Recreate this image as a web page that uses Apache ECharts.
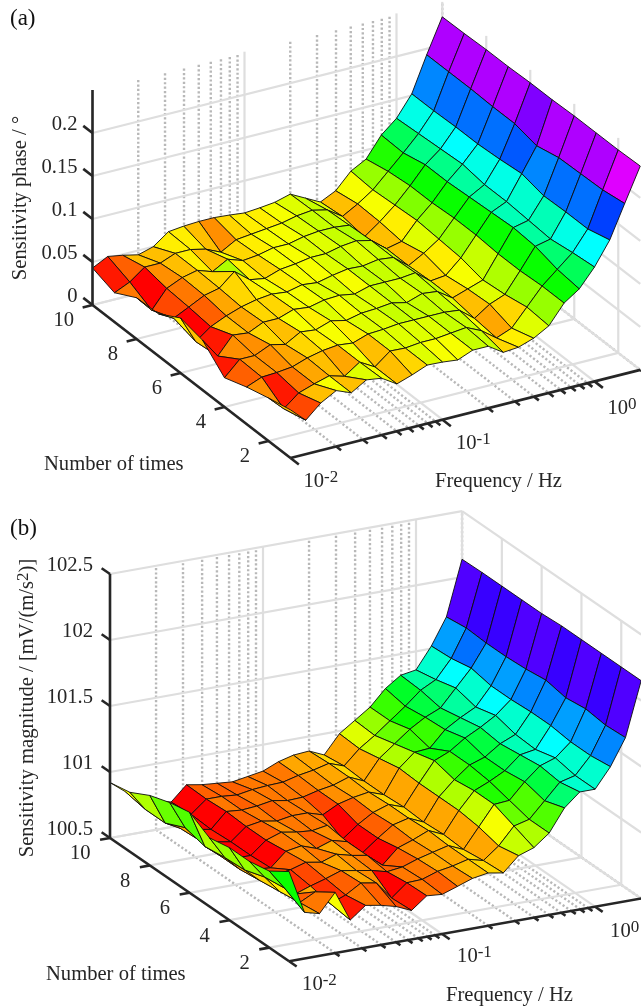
<!DOCTYPE html>
<html><head><meta charset="utf-8">
<style>html,body{margin:0;padding:0;background:#fff}#c{width:641px;height:1007px}</style>
<script src="https://cdn.jsdelivr.net/npm/echarts@6/dist/echarts.min.js"></script></head>
<body><div id="c"></div>
<script>
const frequency=[0.01,0.0126,0.0158,0.02,0.0251,0.0316,0.0398,0.0501,0.0631,0.0794,0.1,0.126,0.158,0.2,0.251,0.316,0.398,0.501,0.631,0.794,1,1.26,1.58,2];
const times=[10,9,8,7,6,5,4,3,2,1];
const phaseT10=[.043,.052,.049,.045,.05,.063,.065,.066,.066,.0645,.0625,.064,.066,.071,.062,.053,.0616,.08,.0895,.113,.128,.152,.193,.2326];
const phaseT9=[.034,.042,.055,.055,.062,.062,.058,.05,.06,.062,.064,.066,.07,.072,.068,.056,.066,.078,.095,.112,.13,.152,.193,.233];
const phaseT8=[.048,.029,.05,.058,.062,.056,.066,.06,.062,.066,.066,.07,.072,.072,.07,.052,.065,.08,.098,.118,.132,.153,.193,.234];
const phaseT7=[.049,.0395,.048,.057,.061,.076,.062,.059,.065,.067,.07,.07,.074,.076,.072,.058,.062,.082,.098,.118,.134,.153,.192,.234];
const phaseT6=[.064,.032,.045,.053,.059,.063,.065,.063,.067,.065,.069,.072,.071,.074,.072,.058,.068,.08,.1,.12,.13,.155,.192,.235];
const phaseT5=[.058,.035,.055,.053,.061,.061,.067,.065,.069,.07,.067,.072,.072,.072,.074,.06,.062,.078,.1,.122,.13,.158,.186,.235];
const phaseT4=[.034,.051,.051,.059,.055,.065,.063,.069,.065,.069,.07,.072,.068,.074,.072,.06,.066,.072,.098,.124,.128,.152,.192,.236];
const phaseT3=[.043,.05,.051,.053,.059,.063,.065,.063,.069,.07,.072,.072,.072,.072,.07,.056,.068,.075,.098,.122,.126,.153,.193,.236];
const phaseT2=[.05,.033,.047,.053,.058,.053,.065,.055,.069,.068,.07,.07,.072,.074,.066,.053,.06,.08,.1,.115,.13,.153,.194,.236];
const phaseT1=[.056,.0395,.055,.065,.058,.0686,.066,.055,.061,.068,.067,.065,.072,.072,.0605,.062,.068,.078,.1,.112,.133,.16,.198,.237];
const magT10=[100.92,100.83,100.78,100.72,100.69,100.8,100.78,100.77,100.76,100.78,100.8,100.85,100.88,100.89,100.84,100.98,101.06,101.14,101.26,101.34,101.36,101.52,101.72,102.136];
const magT9=[100.95,100.8,100.76,100.72,100.70,100.795,100.795,100.785,100.805,100.815,100.82,100.85,100.87,100.9,100.86,100.97,101.05,101.14,101.23,101.33,101.39,101.53,101.74,102.14];
const magT8=[101.03,100.8,100.74,100.71,100.69,100.805,100.795,100.805,100.825,100.805,100.81,100.84,100.86,100.9,100.85,101.0,101.09,101.18,101.25,101.3,101.43,101.56,101.73,102.14];
const magT7=[101.08,100.87,100.75,100.72,100.70,100.795,100.815,100.795,100.815,100.815,100.78,100.84,100.87,100.89,100.85,101.03,101.13,101.14,101.26,101.33,101.39,101.53,101.73,102.14];
const magT6=[101.11,100.83,100.74,100.7,100.7,100.795,100.835,100.815,100.805,100.825,100.7,100.79,100.86,100.9,100.86,101.02,101.17,101.22,101.3,101.36,101.43,101.53,101.74,102.14];
const magT5=[101.02,100.85,100.74,100.72,100.71,100.815,100.835,100.795,100.835,100.805,100.7,100.79,100.87,100.9,100.85,101.02,101.13,101.22,101.26,101.34,101.39,101.54,101.76,102.15];
const magT4=[101.05,100.86,100.76,100.78,100.8,100.835,100.815,100.855,100.825,100.805,100.71,100.82,100.86,100.91,100.86,101.02,101.15,101.2,101.26,101.36,101.38,101.54,101.73,102.15];
const magT3=[101.05,100.91,100.78,100.74,100.78,100.815,100.855,100.835,100.815,100.785,100.8,100.84,100.87,100.9,100.85,101.0,101.15,101.16,101.28,101.38,101.42,101.52,101.75,102.15];
const magT2=[101.08,100.93,100.8,100.86,100.75,100.795,100.865,100.845,100.71,100.805,100.81,100.85,100.87,100.9,100.87,100.96,101.09,101.12,101.24,101.36,101.39,101.52,101.73,102.15];
const magT1=[101.18,100.85,100.82,100.96,100.73,100.82,100.8,100.77,100.72,100.81,100.8,100.84,100.88,100.9,100.88,100.99,101.03,101.12,101.29,101.39,101.39,101.54,101.74,102.15];
const phaseTicks=[0,0.05,0.1,0.15,0.2];
const phaseTickLabels=['0','0.05','0.1','0.15','0.2'];
const magTicks=[100.5,101,101.5,102,102.5];
const magTickLabels=['100.5','101','101.5','102','102.5'];
const timeTicks=[2,4,6,8,10];
const freqMajor=[0.01,0.1,1];
const freqMajorLabels=['-2','-1','0'];
const freqMinor=[0.02,0.03,0.04,0.05,0.06,0.07,0.08,0.09,0.2,0.3,0.4,0.5,0.6,0.7,0.8,0.9,2];

const phase={rows:[phaseT10,phaseT9,phaseT8,phaseT7,phaseT6,phaseT5,phaseT4,phaseT3,phaseT2,phaseT1],ticks:phaseTicks,labels:phaseTickLabels,
  zBase:0,zTop:0.25,ox:92.5,oy:305,cx:15.2,cy:-3.83,tx:22,ty:17,zs:860,
  tickDz:[-15,-8],tickDt:[-18.5,16],majorD:[[13,27],[13.5,27],[13,30]],
  title:'Sensitivity phase / °',tpos:[21,198],tn:[44,465],fn:[435,482],tag:'(a)',tagPos:[10,19]};
const magnitude={rows:[magT10,magT9,magT8,magT7,magT6,magT5,magT4,magT3,magT2,magT1],ticks:magTicks,labels:magTickLabels,
  zBase:100.5,zTop:102.5,ox:110,oy:838,cx:15.3,cy:-2.73,tx:19.9,ty:13.7,zs:132,
  tickDz:[-17,-8],tickDt:[-19.5,16],majorD:[[13,26],[15,26],[15,28]],
  title:'{b|Sensitivity magnitude / [mV/(m/s}{s|2}{b|)]}',richTitle:true,tpos:[28,708],tn:[46,975],fn:[446,996],tag:'(b)',tagPos:[10,529]};
const panels=[phase,magnitude];

function proj(p,lf,t,z){
  const c=(lf+2)*10;
  return [p.ox+p.cx*c+p.tx*(10-t), p.oy+p.cy*c+p.ty*(10-t)-p.zs*(z-p.zBase)];
}
function hsv(h){
  const i=Math.floor(h/60)%6,f=h/60-Math.floor(h/60);
  const q=1-f,t=f;
  const v=[[1,t,0],[q,1,0],[0,1,t],[0,q,1],[t,0,1],[1,0,q]][i];
  return 'rgb('+v.map(x=>Math.round(x*255)).join(',')+')';
}
const LF=frequency.map(f=>Math.log10(f));
const series=[];
const FONT='"Liberation Serif","Times New Roman",serif';
const INK='#262626';
const FS=20.6;

panels.forEach(function(p){
  const all=p.rows.flat(),zmin=Math.min.apply(null,all),zmax=Math.max.apply(null,all);
  const lo=-2,hi=Math.log10(2);
  const seg=[];
  const all_f=freqMajor.map(f=>[Math.log10(f),0]).concat(freqMinor.map(f=>[Math.log10(f),1]));
  all_f.forEach(function(a){
    seg.push([a[0],10,p.zBase,a[0],10,p.zTop,a[1]]);
    seg.push([a[0],10,p.zBase,a[0],1,p.zBase,a[1]]);
  });
  timeTicks.forEach(function(t){
    seg.push([lo,t,p.zBase,hi,t,p.zBase,0]);
    seg.push([hi,t,p.zBase,hi,t,p.zTop,0]);
  });
  p.ticks.forEach(function(z){
    seg.push([lo,10,z,hi,10,z,0]);
    seg.push([hi,10,z,hi,1,z,0]);
  });
  const axis=[];
  axis.push([lo,10,p.zBase,lo,10,p.zTop,2]);
  axis.push([lo,10,p.zBase,lo,1,p.zBase,2]);
  axis.push([lo,1,p.zBase,hi,1,p.zBase,2]);
  p.ticks.forEach(z=>axis.push([lo,10,z,lo,10.42,z,2]));
  timeTicks.forEach(t=>axis.push([lo,t,p.zBase,lo-0.065,t,p.zBase,2]));
  freqMajor.forEach(f=>axis.push([Math.log10(f),1,p.zBase,Math.log10(f),0.62,p.zBase,2]));
  freqMinor.forEach(f=>axis.push([Math.log10(f),1,p.zBase,Math.log10(f),0.78,p.zBase,2]));

  function lineItem(params,api){
    const a=proj(p,api.value(0),api.value(1),api.value(2)),b=proj(p,api.value(3),api.value(4),api.value(5));
    const k=api.value(6),A=api.coord(a),B=api.coord(b);
    const style=k===2?{stroke:INK,lineWidth:2.6,lineCap:'butt'}:k===1?{stroke:'#b8b8b8',lineWidth:2.4,lineDash:[2.2,2.2]}:{stroke:'#dedede',lineWidth:2.2};
    return {type:'line',shape:{x1:A[0],y1:A[1],x2:B[0],y2:B[1]},style:style};
  }
  series.push({type:'custom',coordinateSystem:'cartesian2d',xAxisIndex:0,yAxisIndex:0,silent:true,z:1,encode:{x:0,y:1},data:seg,renderItem:lineItem,animation:false});

  const cells=[];
  for(let r=0;r<times.length-1;r++){
    for(let c=frequency.length-2;c>=0;c--){
      cells.push([LF[c],LF[c+1],times[r+1],times[r],p.rows[r+1][c],p.rows[r+1][c+1],p.rows[r][c+1],p.rows[r][c]]);
    }
  }
  series.push({type:'custom',coordinateSystem:'cartesian2d',xAxisIndex:0,yAxisIndex:0,silent:true,z:2,encode:{x:0,y:2},data:cells,animation:false,
    renderItem:function(params,api){
      const f0=api.value(0),f1=api.value(1),t0=api.value(2),t1=api.value(3);
      const z00=api.value(4),z10=api.value(5),z11=api.value(6),z01=api.value(7);
      const pts=[proj(p,f0,t0,z00),proj(p,f1,t0,z10),proj(p,f1,t1,z11),proj(p,f0,t1,z01)].map(q=>api.coord(q));
      const idx=Math.min(63,Math.floor((z00-zmin)/(zmax-zmin)*64));
      return {type:'polygon',shape:{points:pts},style:{fill:hsv(idx/64*360),stroke:'#0c0c0c',lineWidth:0.9,lineJoin:'round'}};
    }});
  series.push({type:'custom',coordinateSystem:'cartesian2d',xAxisIndex:0,yAxisIndex:0,silent:true,z:3,encode:{x:0,y:1},data:axis,renderItem:lineItem,animation:false});

  const texts=[];
  p.ticks.forEach(function(z,i){const q=proj(p,lo,10,z);texts.push({t:p.labels[i],x:q[0]+p.tickDz[0],y:q[1]+p.tickDz[1],a:'right'});});
  timeTicks.forEach(function(t){const q=proj(p,lo,t,p.zBase);texts.push({t:String(t),x:q[0]+p.tickDt[0],y:q[1]+p.tickDt[1],a:'right'});});
  freqMajor.forEach(function(f,i){const q=proj(p,Math.log10(f),1,p.zBase);texts.push({t:'{b|10}{s|'+freqMajorLabels[i]+'}',x:q[0]+p.majorD[i][0],y:q[1]+p.majorD[i][1]-3,a:'left',rich:true});});
  texts.push({t:'Number of times',x:p.tn[0],y:p.tn[1],a:'left'});
  texts.push({t:'Frequency / Hz',x:p.fn[0],y:p.fn[1],a:'left'});
  texts.push({t:p.title,x:p.tpos[0],y:p.tpos[1],a:'center',rot:Math.PI/2,rich:!!p.richTitle});
  texts.push({t:p.tag,x:p.tagPos[0],y:p.tagPos[1],a:'left',size:23,black:true});
  series.push({type:'custom',coordinateSystem:'cartesian2d',xAxisIndex:0,yAxisIndex:0,silent:true,z:4,encode:{x:0,y:1},
    data:texts.map((d,i)=>[d.x,d.y,i]),animation:false,
    renderItem:function(params,api){
      const d=texts[api.value(2)],A=api.coord([api.value(0),api.value(1)]);
      const style={text:d.t,x:0,y:0,fill:d.black?'#111':INK,font:(d.size||FS)+'px '+FONT,align:d.a,verticalAlign:'middle'};
      if(d.rich)style.rich={b:{fontSize:FS,fontFamily:FONT,fill:INK,height:26,verticalAlign:'bottom',lineHeight:26},s:{fontSize:17,fontFamily:FONT,fill:INK,verticalAlign:'top',lineHeight:18,height:18}};
      return {type:'text',x:A[0],y:A[1],rotation:d.rot||0,style:style};
    }});
});

const chart=echarts.init(document.getElementById('c'),null,{renderer:'canvas'});
chart.setOption({animation:false,backgroundColor:'#fff',
  grid:{left:0,top:0,width:641,height:1007,containLabel:false},
  xAxis:{type:'value',min:0,max:641,show:false},
  yAxis:{type:'value',min:0,max:1007,inverse:true,show:false},
  series:series});
</script></body></html>
